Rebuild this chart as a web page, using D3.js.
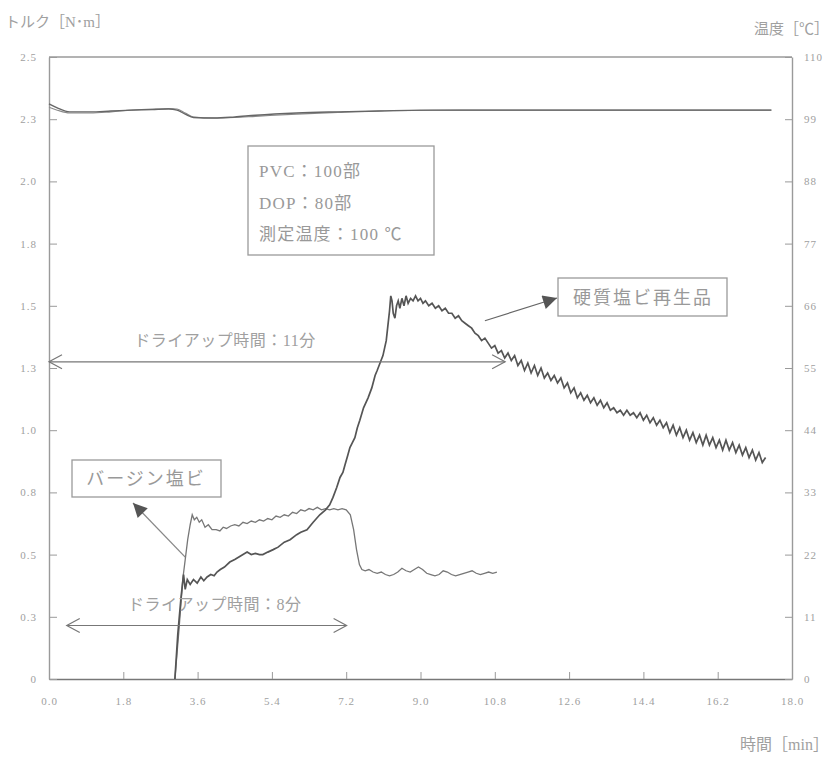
<!DOCTYPE html>
<html><head><meta charset="utf-8">
<script src="https://cdn.jsdelivr.net/npm/d3@7"></script>
<style>
html,body{margin:0;padding:0;background:#fff;}
svg{display:block;font-family:"Liberation Serif","Noto Sans CJK JP",serif;}
</style></head>
<body>
<svg id="chart" width="831" height="759"></svg>
<script>
// ---- data ----
const xTicks = [0,1.8,3.6,5.4,7.2,9.0,10.8,12.6,14.4,16.2,18.0];
const xTickLabels = ["0.0","1.8","3.6","5.4","7.2","9.0","10.8","12.6","14.4","16.2","18.0"];
const yTicks = [0,0.25,0.5,0.75,1.0,1.25,1.5,1.75,2.0,2.25,2.5];
const yTickLabels = ["0","0.3","0.5","0.8","1.0","1.3","1.5","1.8","2.0","2.3","2.5"];
const y2Ticks = [0,11,22,33,44,55,66,77,88,99,110];

// temperature curves (°C, right axis)
const tempTime = [0,0.2,0.5,1.0,1.5,2.0,2.5,2.9,3.1,3.3,3.5,4.0,4.5,5.0,6.0,7.0,8.0,9.0,10,12,14,16,17.5];
const tempA = [101.7,101.0,100.3,100.3,100.45,100.6,100.7,100.8,100.6,99.9,99.3,99.2,99.4,99.7,100.1,100.3,100.45,100.6,100.6,100.6,100.6,100.6,100.6];
const tempB = [101.1,100.6,100.1,100.1,100.3,100.6,100.8,100.9,100.8,100.1,99.4,99.2,99.3,99.5,99.9,100.2,100.45,100.55,100.6,100.6,100.6,100.6,100.6];

// torque: hard PVC recycled product (硬質塩ビ再生品)
const recTime = [3.05,3.12,3.2,3.26,3.3,3.35,3.42,3.5,3.59,3.68,3.75,3.83,3.92,4.0,4.07,4.15,4.25,4.38,4.5,4.6,4.7,4.8,4.9,5.0,5.1,5.18,5.3,5.43,5.55,5.7,5.84,6.0,6.1,6.25,6.4,6.56,6.7,6.8,6.88,6.97,7.05,7.12,7.17,7.24,7.29,7.35,7.41,7.47,7.53,7.62,7.73,7.82,7.9,7.95,8.02,8.09,8.13,8.17,8.21,8.25,8.28,8.31,8.34,8.38,8.42,8.46,8.5,8.55,8.6,8.65,8.7,8.76,8.82,8.88,8.94,9.0,9.06,9.12,9.2,9.28,9.36,9.44,9.52,9.6,9.68,9.76,9.84,9.92,10.0,10.08,10.16,10.24,10.32,10.4,10.48,10.56,10.64,10.72,10.8,10.88,10.96,11.04,11.12,11.2,11.28,11.36,11.44,11.52,11.6,11.68,11.76,11.84,11.92,12.0,12.08,12.16,12.24,12.32,12.4,12.48,12.56,12.64,12.72,12.8,12.88,12.96,13.04,13.12,13.2,13.28,13.36,13.44,13.52,13.6,13.68,13.76,13.84,13.92,14.0,14.08,14.16,14.24,14.32,14.4,14.48,14.56,14.64,14.72,14.8,14.88,14.96,15.04,15.12,15.2,15.28,15.36,15.44,15.52,15.6,15.68,15.76,15.84,15.92,16.0,16.08,16.16,16.24,16.32,16.4,16.48,16.56,16.64,16.72,16.8,16.88,16.96,17.04,17.12,17.2,17.28,17.36];
const recTorque = [0,0.18,0.33,0.42,0.36,0.40,0.38,0.40,0.385,0.41,0.395,0.41,0.42,0.415,0.43,0.44,0.45,0.47,0.48,0.49,0.50,0.51,0.50,0.505,0.50,0.50,0.51,0.52,0.53,0.55,0.56,0.58,0.59,0.60,0.63,0.66,0.68,0.70,0.73,0.77,0.81,0.83,0.86,0.90,0.93,0.95,0.97,1.01,1.04,1.09,1.13,1.17,1.22,1.24,1.27,1.30,1.33,1.36,1.42,1.48,1.54,1.52,1.47,1.45,1.50,1.52,1.49,1.53,1.50,1.54,1.51,1.53,1.52,1.54,1.52,1.53,1.51,1.52,1.50,1.51,1.49,1.50,1.48,1.49,1.47,1.47,1.45,1.46,1.44,1.43,1.42,1.41,1.39,1.38,1.36,1.37,1.35,1.33,1.34,1.31,1.32,1.29,1.31,1.28,1.30,1.26,1.28,1.24,1.27,1.23,1.26,1.22,1.25,1.21,1.23,1.20,1.22,1.19,1.21,1.17,1.19,1.15,1.17,1.13,1.15,1.12,1.14,1.11,1.13,1.10,1.12,1.09,1.11,1.08,1.09,1.07,1.08,1.06,1.08,1.06,1.07,1.05,1.07,1.04,1.06,1.03,1.05,1.02,1.04,1.01,1.03,0.99,1.02,0.98,1.01,0.97,1.00,0.96,0.99,0.95,0.98,0.94,0.98,0.94,0.97,0.93,0.96,0.92,0.96,0.92,0.95,0.91,0.94,0.90,0.93,0.89,0.92,0.88,0.91,0.87,0.89];

// torque: virgin PVC (バージン塩ビ)
const virTime = [3.05,3.15,3.24,3.3,3.36,3.42,3.47,3.52,3.58,3.64,3.7,3.78,3.86,3.95,4.05,4.14,4.22,4.3,4.4,4.5,4.6,4.7,4.8,4.9,5.0,5.1,5.2,5.3,5.4,5.5,5.6,5.7,5.8,5.9,6.0,6.1,6.2,6.3,6.4,6.5,6.6,6.7,6.8,6.9,7.0,7.1,7.2,7.3,7.38,7.45,7.52,7.58,7.66,7.75,7.85,7.95,8.05,8.15,8.25,8.35,8.45,8.55,8.65,8.75,8.85,8.95,9.05,9.15,9.25,9.35,9.45,9.55,9.65,9.75,9.85,9.95,10.05,10.15,10.25,10.35,10.45,10.55,10.65,10.75,10.85];
const virTorque = [0,0.2,0.40,0.48,0.56,0.62,0.66,0.64,0.65,0.63,0.64,0.61,0.62,0.60,0.60,0.595,0.61,0.605,0.615,0.62,0.615,0.63,0.625,0.635,0.63,0.64,0.635,0.645,0.64,0.655,0.65,0.66,0.655,0.67,0.665,0.68,0.675,0.685,0.68,0.69,0.68,0.685,0.68,0.685,0.68,0.685,0.68,0.66,0.60,0.52,0.46,0.44,0.435,0.44,0.43,0.425,0.43,0.42,0.415,0.42,0.43,0.445,0.435,0.43,0.44,0.45,0.44,0.425,0.42,0.415,0.42,0.435,0.43,0.42,0.415,0.42,0.425,0.43,0.435,0.425,0.42,0.425,0.43,0.425,0.43];

// annotations
const dryUp = [
  {label:"ドライアップ時間：11分", from:0, to:11.05, torque:1.275},
  {label:"ドライアップ時間：8分", from:0.43, to:7.21, torque:0.215}
];
const conditions = ["PVC：100部","DOP：80部","測定温度：100 ℃"];
const labelVirgin = "バージン塩ビ";
const labelRecycled = "硬質塩ビ再生品";

// ---- drawing ----
const svg = d3.select("#chart");
const L = 49, R = 792, T = 57, B = 679;
const x = d3.scaleLinear().domain([0,18]).range([L,R]);
const y = d3.scaleLinear().domain([0,2.5]).range([B,T]);
const y2 = d3.scaleLinear().domain([0,110]).range([B,T]);

const axisCol = "#9a9a9a", textCol = "#a0a0a0";

// frame top line
svg.append("line").attr("x1",L).attr("x2",R).attr("y1",T).attr("y2",T).attr("stroke",axisCol).attr("stroke-width",1.3);

const ax = svg.append("g").attr("transform",`translate(0,${B})`)
  .call(d3.axisBottom(x).tickValues(xTicks).tickSizeInner(-7).tickSizeOuter(0).tickFormat((d,i)=>xTickLabels[i]));
const ay = svg.append("g").attr("transform",`translate(${L},0)`)
  .call(d3.axisLeft(y).tickValues(yTicks).tickSizeInner(-8).tickSizeOuter(0).tickFormat((d,i)=>yTickLabels[i]));
const ay2 = svg.append("g").attr("transform",`translate(${R},0)`)
  .call(d3.axisRight(y2).tickValues(y2Ticks).tickSizeInner(-7).tickSizeOuter(0).tickFormat(d=>String(d)));
[ax,ay,ay2].forEach(g=>{
  g.select(".domain").attr("stroke",axisCol).attr("stroke-width",1.4);
  g.selectAll(".tick line").attr("stroke",axisCol);
  g.selectAll(".tick text").attr("fill",textCol).attr("font-size",11)
   .attr("font-family","Liberation Serif, serif").attr("letter-spacing",1);
});
ax.select(".domain").attr("stroke","#777");
ax.selectAll(".tick text").attr("y",18);
ay.selectAll(".tick text").attr("x",-12);
ay2.selectAll(".tick text").attr("x",12);

// axis titles
svg.append("text").attr("x",5).attr("y",27).attr("fill",textCol).attr("font-size",15).text("トルク［N･m］");
svg.append("text").attr("x",829).attr("y",34).attr("text-anchor","end").attr("fill",textCol).attr("font-size",15).text("温度［℃］");
svg.append("text").attr("x",829).attr("y",750).attr("text-anchor","end").attr("fill",textCol).attr("font-size",16).text("時間［min］");

// lines
const lineT = d3.line().x(d=>x(d[0])).y(d=>y2(d[1])).curve(d3.curveMonotoneX);
const lineQ = d3.line().x(d=>x(d[0])).y(d=>y(d[1]));
svg.append("path").datum(tempTime.map((t,i)=>[t,tempB[i]])).attr("d",lineT)
  .attr("fill","none").attr("stroke","#8a8a8a").attr("stroke-width",1.1);
svg.append("path").datum(tempTime.map((t,i)=>[t,tempA[i]])).attr("d",lineT)
  .attr("fill","none").attr("stroke","#666").attr("stroke-width",1.4);
svg.append("path").datum(virTime.map((t,i)=>[t,virTorque[i]])).attr("d",lineQ)
  .attr("fill","none").attr("stroke","#777").attr("stroke-width",1.3);
svg.append("path").datum(recTime.map((t,i)=>[t,recTorque[i]])).attr("d",lineQ)
  .attr("fill","none").attr("stroke","#555").attr("stroke-width",1.7);

// dry-up arrows
dryUp.forEach(d=>{
  const yy = y(d.torque), x1 = x(d.from), x2 = x(d.to);
  const g = svg.append("g").attr("stroke","#777").attr("stroke-width",1.2).attr("fill","none");
  g.append("line").attr("x1",x1).attr("x2",x2).attr("y1",yy).attr("y2",yy);
  g.append("path").attr("d",`M${x1+13},${yy-7}L${x1},${yy}L${x1+13},${yy+7}`);
  g.append("path").attr("d",`M${x2-13},${yy-7}L${x2},${yy}L${x2-13},${yy+7}`);
  svg.append("text").attr("x",(x1+x2)/2 - (d.from===0?52:-8)).attr("y",yy-16)
    .attr("text-anchor","middle").attr("fill",textCol).attr("font-size",16).attr("letter-spacing",0.5).text(d.label);
});

// condition box
svg.append("rect").attr("x",248).attr("y",146).attr("width",186).attr("height",109)
  .attr("fill","#fff").attr("stroke","#9a9a9a").attr("stroke-width",1.3);
conditions.forEach((c,i)=>{
  svg.append("text").attr("x",259).attr("y",177+i*31.5).attr("fill","#999")
    .attr("font-size",17).attr("letter-spacing",1.2).text(c);
});

// label boxes with arrows
svg.append("defs").append("marker").attr("id","tri").attr("viewBox","0 0 10 10")
  .attr("refX",10).attr("refY",5).attr("markerWidth",10).attr("markerHeight",10)
  .attr("markerUnits","userSpaceOnUse").attr("orient","auto")
  .append("path").attr("d","M0,0L10,5L0,10Z").attr("fill","#555");
svg.select("#tri").attr("markerWidth",16).attr("markerHeight",14);

svg.append("rect").attr("x",72).attr("y",460).attr("width",149).attr("height",37)
  .attr("fill","#fff").attr("stroke","#9a9a9a").attr("stroke-width",1.3);
svg.append("text").attr("x",146).attr("y",485).attr("text-anchor","middle").attr("fill","#999")
  .attr("font-size",18).attr("letter-spacing",2).text(labelVirgin);
svg.append("line").attr("x1",x(3.3)).attr("y1",y(0.49)).attr("x2",133).attr("y2",503)
  .attr("stroke","#888").attr("stroke-width",1.3).attr("marker-end","url(#tri)");

svg.append("rect").attr("x",558).attr("y",278).attr("width",169).attr("height",38)
  .attr("fill","#fff").attr("stroke","#9a9a9a").attr("stroke-width",1.3);
svg.append("text").attr("x",643).attr("y",304).attr("text-anchor","middle").attr("fill","#999")
  .attr("font-size",18).attr("letter-spacing",2).text(labelRecycled);
svg.append("line").attr("x1",x(10.56)).attr("y1",y(1.44)).attr("x2",557).attr("y2",298)
  .attr("stroke","#666").attr("stroke-width",1.2).attr("marker-end","url(#tri)");
</script>
</body></html>
